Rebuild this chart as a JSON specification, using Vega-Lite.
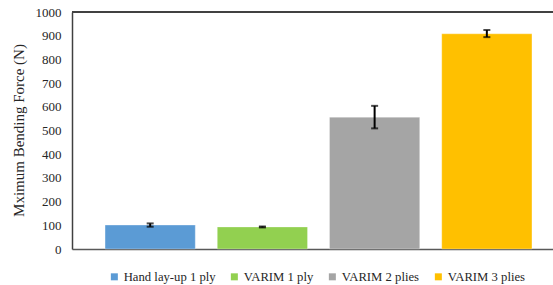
{
  "$schema": "https://vega.github.io/schema/vega-lite/v6.json",
  "autosize": {"type": "none"},
  "width": 482,
  "height": 237,
  "padding": {"left": 72, "top": 12, "right": 0, "bottom": 36},
  "background": "white",
  "config": {
    "font": "Liberation Serif",
    "view": {"stroke": null},
    "axis": {"labelFont": "Liberation Serif", "titleFont": "Liberation Serif"},
    "legend": {"labelFont": "Liberation Serif"}
  },
  "resolve": {"axis": {"y": "independent"}},
  "data": {
    "values": [
      {"cat": "Hand lay-up 1 ply", "value": 101, "lo": 94, "hi": 108},
      {"cat": "VARIM 1 ply", "value": 93, "lo": 91, "hi": 95},
      {"cat": "VARIM 2 plies", "value": 556, "lo": 509, "hi": 604},
      {"cat": "VARIM 3 plies", "value": 908, "lo": 894, "hi": 924}
    ]
  },
  "encoding": {
    "x": {
      "field": "cat",
      "type": "nominal",
      "sort": null,
      "scale": {"paddingInner": 0.196, "paddingOuter": 0.2455, "align": 0.6},
      "axis": {"title": null, "labels": false, "ticks": false, "domainColor": "#595959", "domainWidth": 1.5}
    }
  },
  "layer": [
    {
      "mark": {"type": "bar", "stroke": "white", "strokeWidth": 0.6, "strokeOpacity": 0.5},
      "encoding": {
        "y": {
          "field": "value",
          "type": "quantitative",
          "scale": {"domain": [0, 1000]},
          "axis": {
            "title": "Mximum Bending Force (N)",
            "titleFontSize": 15,
            "titleFontWeight": "normal",
            "titleColor": "#262626",
            "titleAngle": -90,
            "titleX": -54,
            "titleY": 118,
            "titleAlign": "center",
            "titleBaseline": "middle",
            "values": [0, 100, 200, 300, 400, 500, 600, 700, 800, 900, 1000],
            "format": "d",
            "grid": false,
            "ticks": false,
            "labelPadding": 11,
            "labelFontSize": 13,
            "labelColor": "#262626",
            "domainColor": "#404040",
            "domainWidth": 1.5
          }
        },
        "color": {
          "field": "cat",
          "type": "nominal",
          "sort": null,
          "scale": {"range": ["#5B9BD5", "#92D050", "#A5A5A5", "#FFC000"]},
          "legend": {
            "title": null,
            "orient": "none",
            "direction": "horizontal",
            "legendX": 36,
            "legendY": 258,
            "symbolType": "square",
            "symbolSize": 49,
            "symbolStrokeWidth": 0,
            "labelFontSize": 12.7,
            "labelColor": "#262626",
            "labelOffset": 3,
            "columnPadding": 12
          }
        }
      }
    },
    {
      "mark": {"type": "rule", "color": "#404040", "strokeWidth": 1.5},
      "encoding": {"y": {"datum": 1000, "type": "quantitative", "axis": null}, "x": {"value": 0}, "x2": {"value": 482}}
    },
    {
      "mark": {"type": "rule", "color": "black", "strokeWidth": 2},
      "encoding": {
        "y": {"field": "lo", "type": "quantitative", "axis": null},
        "y2": {"field": "hi"}
      }
    },
    {
      "mark": {"type": "tick", "color": "black", "size": 7, "thickness": 2, "orient": "horizontal"},
      "encoding": {"y": {"field": "lo", "type": "quantitative", "axis": null}}
    },
    {
      "mark": {"type": "tick", "color": "black", "size": 7, "thickness": 2, "orient": "horizontal"},
      "encoding": {"y": {"field": "hi", "type": "quantitative", "axis": null}}
    }
  ]
}
